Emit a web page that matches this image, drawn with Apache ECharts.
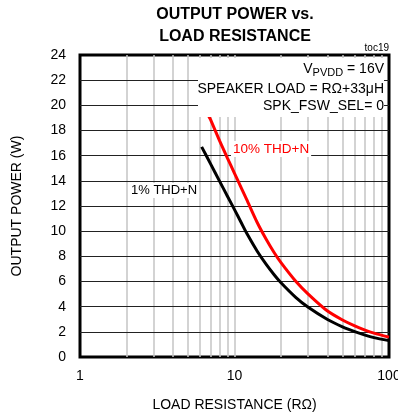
<!DOCTYPE html>
<html><head><meta charset="utf-8">
<script src="https://cdn.jsdelivr.net/npm/echarts@6/dist/echarts.min.js"></script>
<style>html,body{margin:0;padding:0;background:#fff}#c{width:398px;height:417px}</style>
</head><body><div id="c"></div>
<script>
// Data
const blackR = [6.13, 7, 8, 9, 10, 11, 12, 14, 16, 18, 20, 25, 30, 40, 50, 60, 70, 80, 100];
const blackP = [16.7, 15.35, 13.98, 12.78, 11.71, 10.73, 9.83, 8.43, 7.38, 6.56, 5.9, 4.72, 3.95, 2.98, 2.4, 2.02, 1.74, 1.54, 1.3];
const redR = [6.3, 6.84, 7, 8, 9, 10, 11, 12, 14, 16, 18, 20, 25, 30, 40, 50, 60, 70, 80, 100];
const redP = [20.3, 19.1, 18.86, 17.19, 15.81, 14.6, 13.5, 12.5, 10.71, 9.38, 8.33, 7.5, 6.0, 5.0, 3.65, 2.94, 2.47, 2.14, 1.9, 1.58];
const xMinorGrid = [2, 3, 4, 5, 6, 7, 8, 9, 10, 20, 30, 40, 50, 60, 70, 80, 90];
const yGrid = [2, 4, 6, 8, 10, 12, 14, 16, 18, 20, 22];
const seriesNames = ['1% THD+N', '10% THD+N'];

const chart = echarts.init(document.getElementById('c'), null, {renderer: 'canvas'});
const F = 'Liberation Sans, Arial, sans-serif';
const zip = (a, b) => a.map((v, i) => [v, b[i]]);

chart.setOption({
  animation: false,
  grid: {left: 80, right: 9, top: 55, bottom: 60, outerBoundsMode: 'none', containLabel: false,
         show: true, borderColor: '#000', borderWidth: 3, backgroundColor: 'transparent'},
  xAxis: {
    type: 'log', logBase: 10, min: 1, max: 100,
    name: 'LOAD RESISTANCE (RΩ)', nameLocation: 'middle', nameGap: 41,
    nameTextStyle: {fontFamily: F, fontSize: 14, color: '#000'},
    axisLine: {show: false}, axisTick: {show: false},
    axisLabel: {fontFamily: F, fontSize: 14, color: '#000', margin: 12},
    splitLine: {show: false}
  },
  yAxis: {
    type: 'value', min: 0, max: 24, interval: 2,
    name: 'OUTPUT POWER (W)', nameLocation: 'middle', nameGap: 56,
    nameTextStyle: {fontFamily: F, fontSize: 14, color: '#000'},
    axisLine: {show: false}, axisTick: {show: false},
    axisLabel: {fontFamily: F, fontSize: 14, color: '#000', margin: 14},
    splitLine: {show: false}
  },
  series: [
    {type: 'line', data: [[1, 0]], showSymbol: false, lineStyle: {opacity: 0}, silent: true, z: 1,
     markLine: {silent: true, symbol: 'none', label: {show: false},
       lineStyle: {color: '#c4c4c4', width: 1.5, type: 'solid'},
       data: xMinorGrid.map(v => ({xAxis: v}))}},
    {type: 'line', data: [[1, 0]], showSymbol: false, lineStyle: {opacity: 0}, silent: true, z: 1,
     markLine: {silent: true, symbol: 'none', label: {show: false},
       lineStyle: {color: '#222', width: 1, type: 'solid'},
       data: yGrid.map(v => ({yAxis: v}))}},
    {name: seriesNames[0], type: 'line', smooth: 0.25, showSymbol: false, z: 5,
     lineStyle: {color: '#000', width: 3}, data: zip(blackR, blackP)},
    {name: seriesNames[1], type: 'line', smooth: 0.25, showSymbol: false, z: 5,
     lineStyle: {color: '#ff0000', width: 3}, data: zip(redR, redP)}
  ],
  graphic: [
    {type: 'text', z: 100, x: 235, y: 4, style: {text: 'OUTPUT POWER vs.\nLOAD RESISTANCE', font: 'bold 16px ' + F, fill: '#000', textAlign: 'center', lineHeight: 22}},
    {type: 'text', z: 100, x: 389, y: 43, style: {text: 'toc19', font: '10px ' + F, fill: '#000', textAlign: 'right'}},
    {type: 'rect', z: 100, shape: {x: 198, y: 58, width: 186, height: 59}, style: {fill: '#fff'}},
    {type: 'text', z: 101, x: 384, y: 62, style: {
      text: '{v|V}{s|PVDD}{v| = 16V}', textAlign: 'right',
      rich: {v: {font: '14px ' + F, fill: '#000', verticalAlign: 'top'}, s: {font: '11px ' + F, fill: '#000', padding: [5, 0, 0, 0]}}}},
    {type: 'text', z: 101, x: 384, y: 82, style: {text: 'SPEAKER LOAD = RΩ+33μH', font: '14px ' + F, fill: '#000', textAlign: 'right'}},
    {type: 'text', z: 101, x: 384, y: 99, style: {text: 'SPK_FSW_SEL= 0', font: '14px ' + F, fill: '#000', textAlign: 'right'}},
    {type: 'text', z: 101, x: 129, y: 183, style: {text: seriesNames[0], font: '13px ' + F, fill: '#000', backgroundColor: '#fff', padding: [1, 2]}},
    {type: 'text', z: 101, x: 231, y: 141, style: {text: seriesNames[1], font: '13.5px ' + F, fill: '#ff0000', backgroundColor: '#fff', padding: [1, 2]}}
  ]
});
</script></body></html>
